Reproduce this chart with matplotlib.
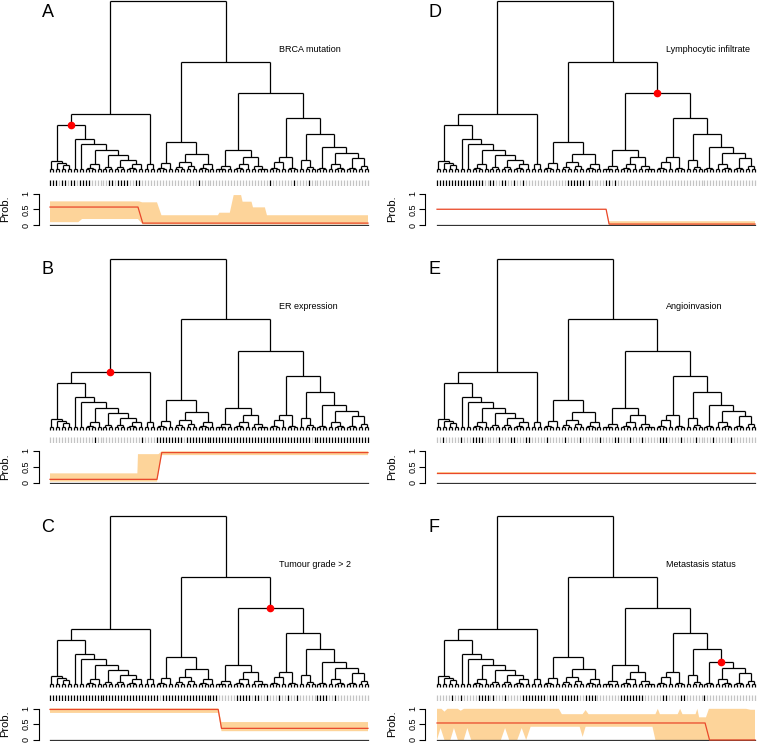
import matplotlib.pyplot as plt
import numpy as np
from matplotlib.collections import LineCollection

plt.rcParams['font.family'] = ['Liberation Sans', 'DejaVu Sans']

W, H = 757, 743
N_LEAF = 108
PAIR_H = 3
P = 'p'   # a pair of leaves joined at PAIR_H

# dendrogram, nodes are [merge height, left, right]
la = [11, P, [9, P, [7, P, P]]]
lb = [33, P, [28, P, [22, [8, [4, P, P], P],
                      [17, [5, P, P], [12, [5, P, P], [8, [4, P, P], P]]]]]]
l1 = [47, la, lb]
left = [58, l1, [8, P, P]]

r1 = [30, [9, [4, P, P], P],
      [18, [10, [5, P, P], [6, P, P]], [8, [4, P, P], P]]]
r2a = [22, [6, [3, P, P], P], [15, [8, [4, P, P], P], [6, P, [3, P, P]]]]
r2b2b = [25, [4, P, P], [19, [8, P, [4, P, P]], [14, [4, P, P], [6, P, P]]]]
r2b = [54, [15, [10, [4, P, P], P], [4, P, P]],
       [38, [12, P, [5, P, P]], r2b2b]]
r2 = [79, r2a, r2b]
right = [111, r1, r2]
tree = [172, left, right]

# tick rows: runs of black leaves (first, last)
brca_ticks = [(1, 3), (5, 6), (8, 9), (11, 14), (21, 22), (24, 27), (30, 31),
              (51, 51), (75, 75), (83, 83), (88, 88)]
er_ticks = [(16, 16), (32, 32), (37, 45), (47, 88), (90, 108)]
grade_ticks = [(1, 37), (39, 57), (64, 68), (70, 71), (74, 74), (78, 78),
               (81, 81), (84, 84), (91, 94), (97, 97)]
lymph_ticks = [(1, 16), (19, 20), (23, 24), (27, 27), (30, 30), (45, 50),
               (52, 52), (58, 59), (61, 61)]
angio_ticks = [(3, 3), (9, 9), (13, 16), (22, 22), (26, 27), (31, 32), (38, 38),
               (44, 44), (49, 49), (56, 56), (61, 62), (66, 66), (70, 70),
               (76, 78), (83, 83), (88, 88), (94, 94), (100, 100)]
meta_ticks = [(6, 6), (9, 9), (15, 18), (20, 20), (24, 24), (30, 37), (39, 41),
              (43, 48), (51, 54), (63, 70), (77, 78), (83, 84), (91, 91)]

# probability: (x, y) of mean line, band upper and band lower
brca_mean = ([1, 30.6, 32.2, 108], [0.57, 0.57, 0.06, 0.06])
brca_up = ([1, 31, 32, 37, 38.5, 57.5, 58, 61.5, 62.8, 65.3, 65.8, 68.8, 69.3, 73.3, 74, 108],
           [0.75, 0.75, 0.72, 0.72, 0.31, 0.31, 0.39, 0.39, 0.95, 0.95, 0.74, 0.74,
            0.56, 0.56, 0.31, 0.31])
brca_lo = ([1, 10.5, 11.8, 30.6, 32.2, 108], [0.09, 0.09, 0.19, 0.19, 0.02, 0.02])

er_mean = ([1, 37, 38.6, 108], [0.1, 0.1, 0.95, 0.95])
er_up = ([1, 30.4, 30.6, 37.5, 38.6, 108], [0.29, 0.29, 0.9, 0.9, 0.99, 0.99])
er_lo = ([1, 37, 38.6, 108], [0.03, 0.03, 0.87, 0.87])

grade_mean = ([1, 57.6, 58.7, 108], [0.97, 0.97, 0.37, 0.37])
grade_up = ([1, 57.6, 58.7, 108], [1.0, 1.0, 0.57, 0.57])
grade_lo = ([1, 57.6, 58.7, 108], [0.86, 0.86, 0.28, 0.28])

lymph_mean = ([1, 57.9, 58.9, 108], [0.5, 0.5, 0.03, 0.03])
lymph_up = ([1, 57.9, 58.9, 108], [0.51, 0.51, 0.12, 0.12])
lymph_lo = ([1, 57.9, 58.9, 108], [0.49, 0.49, 0.0, 0.0])

angio_mean = ([1, 108], [0.29, 0.29])
angio_up = ([1, 108], [0.33, 0.33])
angio_lo = ([1, 108], [0.26, 0.26])

meta_mean = ([1, 91.2, 92.7, 108], [0.54, 0.54, 0.0, 0.0])
meta_up = ([1, 2.5, 3.5, 4.5, 8, 9, 10, 42, 43, 50, 51, 52, 74.5, 75.3, 76, 82, 82.8,
            83.6, 88, 88.6, 89.2, 91.5, 92.5, 105, 106.5, 108],
           [0.99, 0.99, 0.9, 0.99, 0.99, 0.93, 0.99, 0.99, 0.82, 0.82, 0.95, 0.82, 0.82,
            0.99, 0.82, 0.82, 0.99, 0.82, 0.82, 0.99, 0.72, 0.72, 0.99, 0.99, 0.96, 0.96])
meta_lo = ([1, 2.2, 3.5, 5.5, 6.7, 8, 10, 11.2, 12.5, 22.5, 23.9, 25.3, 28, 29.5, 31,
            32.5, 49, 50, 51, 73.5, 74.5, 108],
           [0.0, 0.38, 0, 0, 0.38, 0, 0, 0.38, 0, 0, 0.38, 0, 0, 0.38, 0, 0.42, 0.42,
            0.1, 0.42, 0.42, 0, 0])

panels = [
    ('A', 'BRCA mutation', l1, brca_ticks, brca_mean, brca_up, brca_lo, 0, 0),
    ('B', 'ER expression', left, er_ticks, er_mean, er_up, er_lo, 1, 0),
    ('C', 'Tumour grade > 2', r2, grade_ticks, grade_mean, grade_up, grade_lo, 2, 0),
    ('D', 'Lymphocytic infiltrate', r2, lymph_ticks, lymph_mean, lymph_up, lymph_lo, 0, 1),
    ('E', 'Angioinvasion', None, angio_ticks, angio_mean, angio_up, angio_lo, 1, 1),
    ('F', 'Metastasis status', r2b2b, meta_ticks, meta_mean, meta_up, meta_lo, 2, 1),
]


def layout(node, nxt, segs, pos):
    if node == P:
        a = nxt[0]
        b = a + 1
        nxt[0] += 2
        segs += [[(a, 0), (a, PAIR_H)], [(b, 0), (b, PAIR_H)], [(a, PAIR_H), (b, PAIR_H)]]
        return (a + b) / 2, PAIR_H
    h, lft, rgt = node
    xl, hl = layout(lft, nxt, segs, pos)
    xr, hr = layout(rgt, nxt, segs, pos)
    segs += [[(xl, hl), (xl, h)], [(xr, hr), (xr, h)], [(xl, h), (xr, h)]]
    pos[id(node)] = ((xl + xr) / 2, h)
    return (xl + xr) / 2, h


segs, pos = [], {}
layout(tree, [1], segs, pos)

fig = plt.figure(figsize=(W / 100, H / 100), dpi=100)


def px_axes(x0, y0, x1, y1):
    return fig.add_axes([x0 / W, 1 - y1 / H, (x1 - x0) / W, (y1 - y0) / H])


s = (368 - 50) / (N_LEAF - 1)
xlim = (1 - 11.5 / s, N_LEAF + 13 / s)

for letter, label, mark, runs, mean, up, lo, row, col in panels:
    xo = 387 * col
    yo = 257.5 * row

    # dendrogram
    ax = px_axes(38.5 + xo, yo + 1, 381 + xo, yo + 172)
    ax.add_collection(LineCollection(segs, colors='black', linewidths=0.9,
                                     clip_on=False))
    if mark is not None:
        mx, mh = pos[id(mark)]
        ax.plot(mx, mh, 'o', color='red', ms=4.5, clip_on=False, zorder=5)
    ax.set_xlim(*xlim)
    ax.set_ylim(0, tree[0])
    ax.axis('off')

    # sample ticks
    ax = px_axes(38.5 + xo, yo + 180, 381 + xo, yo + 186)
    leaves = np.arange(1, N_LEAF + 1)
    black = np.zeros(N_LEAF, bool)
    for a, b in runs:
        black[a - 1:b] = True
    ax.vlines(leaves[~black], 0, 1, color='#c4c4c4', lw=0.9)
    ax.vlines(leaves[black], 0, 1, color='black', lw=0.9)
    ax.set_xlim(*xlim)
    ax.set_ylim(0, 1)
    ax.axis('off')

    # probability band
    ax = px_axes(38.5 + xo, yo + 193.5 - 1.26, 381 + xo, yo + 225 + 1.26)
    ax.fill(np.r_[up[0], lo[0][::-1]], np.r_[up[1], lo[1][::-1]],
            color='#fdd49a', lw=0)
    ax.plot([1, N_LEAF], [0, 0], color='#333333', lw=0.9)
    ax.plot(mean[0], mean[1], color='#e9482b', lw=0.9)
    ax.set_xlim(*xlim)
    ax.set_ylim(-0.04, 1.04)
    for sp in ['top', 'right', 'bottom']:
        ax.spines[sp].set_visible(False)
    ax.spines['left'].set_bounds(0, 1)
    ax.spines['left'].set_linewidth(0.8)
    ax.set_xticks([])
    ax.set_yticks([0, 0.5, 1])
    ax.set_yticklabels(['0', '0.5', '1'], rotation=90, va='center')
    ax.tick_params(axis='y', length=4, width=0.8, labelsize=6.5, pad=2)

    fig.text((5.5 + xo) / W, 1 - (yo + 209) / H, 'Prob.', rotation=90,
             ha='center', va='center', fontsize=8)
    fig.text((47.5 + xo) / W, 1 - (yo + 12.5) / H, letter, fontsize=13,
             ha='center', va='center')
    fig.text((279 + xo) / W, 1 - (yo + 49.5) / H, label, fontsize=6.5,
             ha='left', va='center')

fig.savefig('out.png', dpi=100)
